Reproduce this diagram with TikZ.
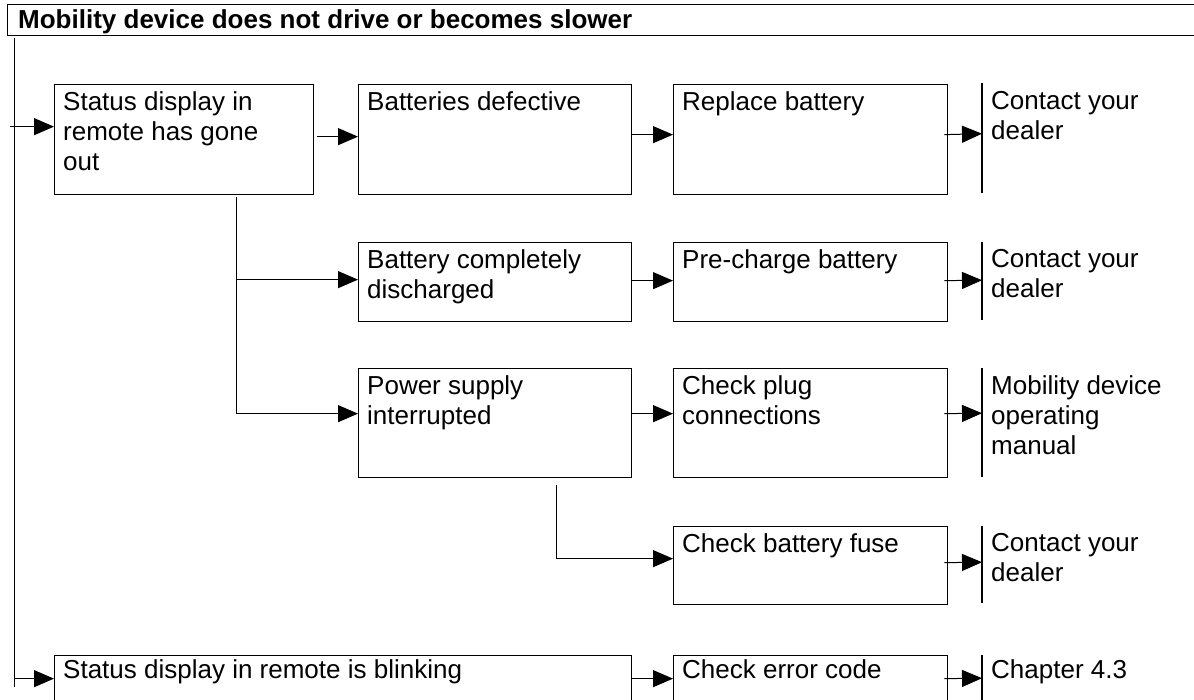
\documentclass[tikz,border=0pt]{standalone}
\usepackage{fontspec}
\setmainfont{Liberation Sans}
\usetikzlibrary{arrows.meta,calc}
\begin{document}
\begin{tikzpicture}[x=1pt,y=-1pt,
  box/.style={draw,line width=1.3pt,anchor=north west,inner sep=0pt},
  txt/.style={anchor=north west,inner sep=0pt,align=left,font=\fontsize{26}{30}\selectfont},
  arr/.style={line width=1pt,-{Triangle[length=20pt,width=17pt]}},
  conn/.style={line width=1pt},
  bar/.style={line width=1.3pt},
  endzone/.style={anchor=north west,inner sep=0pt,minimum width=150pt}]
\useasboundingbox (0,0) rectangle (1194,700);
\clip (0,0) rectangle (1194,700);

% title
\node[box,minimum width=1200pt,minimum height=31pt] (title) at (7,4) {};
\node[anchor=base west,inner sep=0pt,font=\bfseries\fontsize{26}{28}\selectfont] (ttext) at (18,29) {Mobility device does not drive or becomes slower};

% main left line
\coordinate (Ltop) at (14,38);
\coordinate (Lbot) at (14,687);
\draw[conn] (Ltop) -- (Lbot);

% row 1
\node[box,minimum width=259pt,minimum height=110pt] (b1) at (54,84) {};
\node[txt] (t1) at (63,91) {Status display in\\remote has gone\\out};
\node[box,minimum width=273pt,minimum height=110pt] (b2) at (358,84) {};
\node[txt] (t2) at (367,91) {Batteries defective};
\node[box,minimum width=274pt,minimum height=110pt] (b3) at (673,84) {};
\node[txt] (t3) at (682,91) {Replace battery};
\node[endzone,minimum height=110pt] (e1) at (982,83) {};
\draw[bar] (e1.north west) -- (e1.south west);
\node[txt] (d1) at (991,91) {Contact your\\dealer};

\draw[arr] ($(b1.west)+(-44,-13)$) -- ($(b1.west)+(0,-13)$);
\draw[arr] ($(b1.east)+(3,-3)$) -- ($(b2.west)+(0,-3)$);
\draw[arr] ($(b2.east)+(0,-5)$) -- ($(b3.west)+(0,-5)$);
\draw[arr] ($(b3.east)+(-4,-5)$) -- ($(e1.west)+(0,-4.5)$);

% row 2
\node[box,minimum width=273pt,minimum height=79pt] (b4) at (358,242) {};
\node[txt] (t4) at (367,249) {Battery completely\\discharged};
\node[box,minimum width=274pt,minimum height=79pt] (b5) at (673,242) {};
\node[txt] (t5) at (682,249) {Pre-charge battery};
\node[endzone,minimum height=78pt] (e2) at (982,242) {};
\draw[bar] (e2.north west) -- (e2.south west);
\node[txt] (d2) at (991,249) {Contact your\\dealer};

\coordinate (br1) at (236,197);
\draw[arr] (br1 |- b4.west) ++(0,-2.5) -- ($(b4.west)+(0,-2.5)$);
\draw[arr] ($(b4.east)+(0,-1.5)$) -- ($(b5.west)+(0,-1.5)$);
\draw[arr] ($(b5.east)+(-4,-1.5)$) -- ($(e2.west)+(0,-1)$);

% row 3
\node[box,minimum width=273pt,minimum height=109pt] (b6) at (358,368) {};
\node[txt] (t6) at (367,375) {Power supply\\interrupted};
\node[box,minimum width=274pt,minimum height=109pt] (b7) at (673,368) {};
\node[txt] (t7) at (682,375) {Check plug\\connections};
\node[endzone,minimum height=109pt] (e3) at (982,368) {};
\draw[bar] (e3.north west) -- (e3.south west);
\node[txt] (d3) at (991,375) {Mobility device\\operating\\manual};

\draw[arr] (br1) |- ($(b6.west)+(0,-9.5)$);
\draw[arr] ($(b6.east)+(0,-9.5)$) -- ($(b7.west)+(0,-9.5)$);
\draw[arr] ($(b7.east)+(-4,-9.5)$) -- ($(e3.west)+(0,-9.5)$);

% row 4
\node[box,minimum width=274pt,minimum height=78pt] (b8) at (673,526) {};
\node[txt] (t8) at (682,533) {Check battery fuse};
\node[endzone,minimum height=77pt] (e4) at (982,526) {};
\draw[bar] (e4.north west) -- (e4.south west);
\node[txt] (d4) at (991,533) {Contact your\\dealer};

\coordinate (br2) at (556,485);
\draw[arr] (br2) |- ($(b8.west)+(0,-7)$);
\draw[arr] ($(b8.east)+(-4,-3)$) -- ($(e4.west)+(0,-2.5)$);

% row 5
\node[box,minimum width=577pt,minimum height=80pt] (b9) at (54,655) {};
\node[txt] (t9) at (63,659) {Status display in remote is blinking};
\node[box,minimum width=274pt,minimum height=80pt] (b10) at (673,655) {};
\node[txt] (t10) at (682,659) {Check error code};
\node[endzone,minimum height=80pt] (e5) at (982,655) {};
\draw[bar] (e5.north west) -- (e5.south west);
\node[txt] (d5) at (991,659) {Chapter 4.3};

\draw[arr] ($(b9.west)+(-40,-17)$) -- ($(b9.west)+(0,-17)$);
\draw[arr] ($(b9.east)+(0,-17)$) -- ($(b10.west)+(0,-17)$);
\draw[arr] ($(b10.east)+(-4,-17)$) -- ($(e5.west)+(0,-17)$);
\end{tikzpicture}
\end{document}
